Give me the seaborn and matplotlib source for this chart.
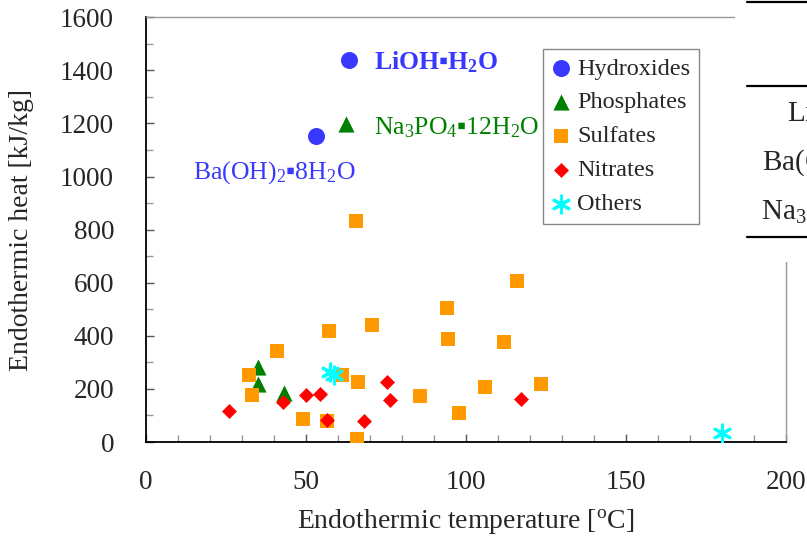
import matplotlib
matplotlib.use("Agg")
import matplotlib.pyplot as plt
import seaborn as sns
import pandas as pd
from matplotlib.lines import Line2D
from matplotlib.patches import Rectangle

# ---- data ----
hyd_x = [63.5, 53.1]
hyd_y = [1438, 1153]
pho_x = [62.5, 34.9, 34.9, 43.2]
pho_y = [1198, 281, 218, 186]
sul_x = [32.3, 33.2, 40.9, 49.2, 56.5, 57.3, 61.1, 65.7, 66.4, 66.0, 70.7, 85.7,
         94.2, 94.5, 97.9, 106.0, 112.0, 116.0, 123.5]
sul_y = [251, 176, 342, 85, 78, 417, 251, 834, 225, 10, 440, 172,
         504, 387, 108, 206, 376, 605, 217]
nit_x = [26.0, 42.9, 49.9, 54.4, 56.5, 68.0, 75.2, 76.3, 117.1]
nit_y = [116, 150, 178, 180, 84, 80, 227, 157, 162]
oth_x = [57.6, 58.8, 180.0]
oth_y = [263, 252, 33]

categories = ["Hydroxides", "Phosphates", "Sulfates", "Nitrates", "Others"]
xs = [hyd_x, pho_x, sul_x, nit_x, oth_x]
ys = [hyd_y, pho_y, sul_y, nit_y, oth_y]
colors = ["#3838ff", "#008000", "#ff9900", "#ff0000", "#00ffff"]
markers = ["o", "^", "s", "D", (6, 2, 0)]
sizes = [150, 135, 112, 58, 150]

x_ticks = [0, 50, 100, 150, 200]
y_ticks = [0, 200, 400, 600, 800, 1000, 1200, 1400, 1600]

annotations = ["LiOH\u25aaH$_2$O", "Na$_3$PO$_4$\u25aa12H$_2$O", "Ba(OH)$_2$\u25aa8H$_2$O"]
table_rows = ["LiOH\u25aaH$_2$O", "Ba(OH)$_2$\u25aa8H$_2$O", "Na$_3$PO$_4$\u25aa12H$_2$O"]

# ---- style ----
sns.set_style("ticks")
plt.rcParams["font.family"] = ["Liberation Serif", "DejaVu Serif"]
plt.rcParams["mathtext.fontset"] = "custom"
plt.rcParams["mathtext.rm"] = "Liberation Serif"
plt.rcParams["mathtext.default"] = "regular"
plt.rcParams["xtick.direction"] = "in"
plt.rcParams["ytick.direction"] = "in"

W, H = 807, 540
fig = plt.figure(figsize=(W / 100, H / 100), dpi=100)
ax = fig.add_axes([146 / W, 1 - 442 / H, 640 / W, (442 - 17.3) / H])

for cat, x, y, c, m, s in zip(categories, xs, ys, colors, markers, sizes):
    df = pd.DataFrame({"x": x, "y": y})
    if m == (6, 2, 0):
        sns.scatterplot(data=df, x="x", y="y", ax=ax, color=c, marker=m, s=s,
                        linewidth=2.2, label=cat, zorder=3)
    else:
        sns.scatterplot(data=df, x="x", y="y", ax=ax, color=c, marker=m, s=s,
                        linewidth=0, label=cat, zorder=3)

ax.set_xlim(0, 200)
ax.set_ylim(0, 1600)
ax.set_xticks(x_ticks)
ax.set_yticks(y_ticks)
ax.set_xticks(range(0, 201, 10), minor=True)
ax.set_yticks(range(0, 1601, 100), minor=True)
ax.tick_params(axis="both", which="major", length=6, width=1, color="#555555", labelsize=19.5)
ax.tick_params(axis="both", which="minor", length=5, width=1, color="#999999")
ax.tick_params(axis="x", which="major", pad=20)
ax.tick_params(axis="y", which="major", pad=23)

for side in ["left", "bottom"]:
    ax.spines[side].set_color("black")
    ax.spines[side].set_linewidth(1.3)
for side in ["top", "right"]:
    ax.spines[side].set_visible(True)
    ax.spines[side].set_color("#999999")
    ax.spines[side].set_linewidth(1.0)

ax.set_xlabel("Endothermic temperature [$^{o}$C]", fontsize=20)
ax.set_ylabel("Endothermic heat [kJ/kg]", fontsize=20)
ax.xaxis.set_label_coords(0.5, -0.152)
ax.yaxis.set_label_coords(-0.175, 0.5)

# annotations
ax.text(71.25, 1404, annotations[0], color=colors[0], fontsize=18.5, fontweight="bold", va="baseline")
ax.text(71.25, 1160, annotations[1], color=colors[1], fontsize=18.5, va="baseline")
ax.text(14.7, 991, annotations[2], color=colors[0], fontsize=18.5, va="baseline")

leg = ax.legend(loc="upper left", bbox_to_anchor=(543 / W, 1 - 49 / H),
                bbox_transform=fig.transFigure, borderaxespad=0, fontsize=17.5,
                frameon=True, fancybox=False, framealpha=1, edgecolor="#888888",
                handlelength=0.8, handletextpad=0.25, labelspacing=0.49,
                borderpad=0.35)
leg.get_frame().set_linewidth(1.0)

# partial table on the right (covers the plot frame)
fig.add_artist(Rectangle((735 / W, 1 - 262 / H), (W - 735) / W, 262 / H,
                         transform=fig.transFigure, facecolor="white",
                         edgecolor="none", zorder=10))
for yy in [2, 86, 237]:
    fig.add_artist(Line2D([747 / W, 1.0], [1 - yy / H, 1 - yy / H],
                          transform=fig.transFigure, color="black", lw=1.6, zorder=11))
for txt, x0, yb in zip(table_rows, [787, 762, 761], [122, 170, 220]):
    fig.text(x0 / W, 1 - yb / H, txt, fontsize=21, va="baseline", ha="left", zorder=12)

fig.savefig("out.png", dpi=100)
